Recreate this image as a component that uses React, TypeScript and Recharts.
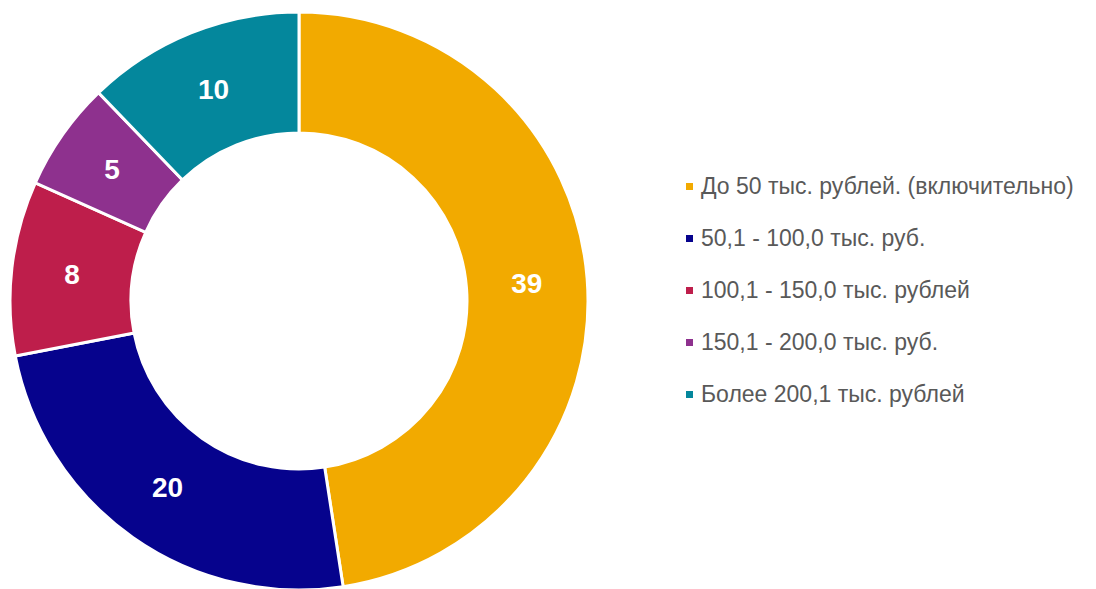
import React from "react";
import { PieChart, Pie, Cell, Legend } from "recharts";

const categories = [
  "До 50 тыс. рублей. (включительно)",
  "50,1 - 100,0 тыс. руб.",
  "100,1 - 150,0 тыс. рублей",
  "150,1 - 200,0 тыс. руб.",
  "Более 200,1 тыс. рублей",
];
const values = [39, 20, 8, 5, 10];
const colors = ["#F2AA00", "#06038D", "#BE1E4B", "#8E318E", "#04879C"];

const data = categories.map((name, i) => ({ name, value: values[i] }));

const RAD = Math.PI / 180;
const renderLabel = (props: any) => {
  const { cx, cy, midAngle, innerRadius, outerRadius, value } = props;
  const r = (innerRadius + outerRadius) / 2;
  const x = cx + r * Math.cos(-midAngle * RAD);
  const y = cy + r * Math.sin(-midAngle * RAD);
  return (
    <text
      x={x}
      y={y}
      fill="#FFFFFF"
      fontSize={28}
      fontWeight="bold"
      fontFamily="'Liberation Sans', Arial, sans-serif"
      textAnchor="middle"
      dominantBaseline="central"
    >
      {value}
    </text>
  );
};

const renderLegend = () => {
  return (
    <div style={{ fontFamily: "'Liberation Sans', Arial, sans-serif" }}>
      {categories.map((name, i) => (
        <div
          key={name}
          style={{
            display: "flex",
            alignItems: "center",
            height: 52,
            fontSize: 23,
            color: "#595959",
            whiteSpace: "nowrap",
          }}
        >
          <span
            style={{
              display: "inline-block",
              width: 7,
              height: 7,
              background: colors[i],
              marginRight: 8,
            }}
          />
          <span>{name}</span>
        </div>
      ))}
    </div>
  );
};

export default function App() {
  return (
    <div style={{ position: "absolute", left: 0, top: 0, width: 1096, height: 589, background: "#fff" }}>
      <PieChart width={1096} height={589} margin={{ top: 0, right: 0, bottom: 0, left: 0 }}>
        <Pie
          data={data}
          dataKey="value"
          nameKey="name"
          cx={299}
          cy={301}
          innerRadius={168}
          outerRadius={289}
          startAngle={90}
          endAngle={-270}
          stroke="#FFFFFF"
          strokeWidth={3}
          label={renderLabel}
          labelLine={false}
          isAnimationActive={false}
        >
          {data.map((d, i) => (
            <Cell key={d.name} fill={colors[i]} />
          ))}
        </Pie>
        <Legend
          layout="vertical"
          content={renderLegend}
          wrapperStyle={{ position: "absolute", left: 686, top: 160, width: 410 }}
        />
      </PieChart>
    </div>
  );
}
